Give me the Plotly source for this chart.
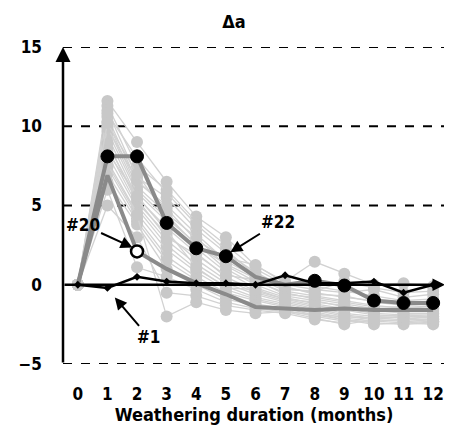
import plotly.graph_objects as go

months = list(range(13))
tick_labels = [str(m) for m in months]
y_ticks = [-5, 0, 5, 10, 15]
dashed_levels = [-5, 5, 10, 15]

gray_series = [
    [0, 11.6, 9.0, 6.5, 4.3, 3.0, 1.2, 0.2, 1.45, 0.7, 0.0, 0.1, -0.1],
    [0, 11.3, 7.5, 6.0, 4.0, 2.5, 1.0, 0.0, -0.3, -0.5, -0.3, -0.8, -0.6],
    [0, 11.0, 6.8, 5.5, 3.5, 2.0, 0.8, -0.2, -0.5, -0.8, -1.0, -1.2, -1.0],
    [0, 10.6, 6.5, 5.0, 3.2, 1.5, 0.5, -0.4, -0.7, -1.0, -1.3, -1.5, -1.3],
    [0, 10.3, 6.2, 4.5, 3.0, 1.2, 0.2, -0.5, -0.9, -1.2, -1.5, -1.6, -1.6],
    [0, 10.0, 6.0, 4.2, 2.6, 1.0, 0.0, -0.7, -1.0, -1.4, -1.6, -1.8, -1.8],
    [0, 9.7, 5.8, 4.0, 2.3, 0.8, -0.2, -0.8, -1.2, -1.5, -1.8, -1.9, -2.0],
    [0, 9.4, 5.5, 3.6, 2.0, 0.5, -0.4, -0.9, -1.3, -1.6, -1.9, -2.0, -2.1],
    [0, 9.0, 5.2, 3.2, 1.6, 0.3, -0.5, -1.0, -1.4, -1.8, -2.0, -2.1, -2.2],
    [0, 8.6, 5.0, 2.8, 1.3, 0.1, -0.6, -1.1, -1.5, -1.9, -2.1, -2.2, -2.3],
    [0, 8.2, 4.8, 2.5, 1.0, -0.1, -0.8, -1.2, -1.6, -2.0, -2.2, -2.3, -2.4],
    [0, 7.8, 4.5, 2.2, 0.8, -0.3, -0.9, -1.3, -1.7, -2.1, -2.3, -2.4, -2.5],
    [0, 7.4, 4.2, 1.8, 0.5, -0.5, -1.0, -1.4, -1.8, -2.2, -2.4, -2.5, -2.4],
    [0, 7.0, 4.0, 1.5, 0.3, -0.7, -1.2, -1.5, -1.9, -2.2, -2.5, -2.4, -2.3],
    [0, 6.5, 3.8, 1.0, 0.0, -0.9, -1.3, -1.6, -2.0, -2.3, -2.3, -2.2, -2.2],
    [0, 6.0, 1.1, 0.5, -0.3, -1.1, -1.5, -1.7, -2.1, -2.5, -2.2, -2.0, -2.0],
    [0, 5.0, 3.0, -0.5, -0.7, -1.3, -1.6, -1.8, -2.2, -2.4, -2.0, -1.9, -1.9],
    [0, 10.8, 8.0, 5.8, 3.8, 2.2, 0.6, -0.3, -0.4, 0.2, -0.2, -0.5, -0.4],
    [0, 9.9, 6.6, 4.8, 2.8, 1.7, 1.25, 0.1, -0.1, -0.4, -0.7, -1.0, -0.9],
    [0, 8.9, 5.4, 3.0, 1.9, 0.6, 0.3, -0.6, -0.8, -1.1, -1.4, -1.4, -1.5],
    [0, 7.6, 4.4, -2.0, -1.1, -1.6, -1.8, -1.7, -1.9, -2.0, -2.1, -2.0, -2.1],
    [0, 8.4, 5.6, 3.4, 1.1, -0.2, -0.3, -0.9, -1.1, -1.3, -1.7, -1.7, -1.7],
    [0, 10.2, 7.0, 4.4, 2.5, 1.3, 0.4, -0.1, -0.6, -0.7, -1.1, -1.3, -1.4],
]
sample_20 = [0, 6.9, 2.1, 1.0, 0.1, -0.6, -1.4, -1.5, -1.6, -1.5, -1.6, -1.6, -1.6]
sample_22 = [0, 8.1, 8.1, 3.9, 2.3, 1.8, 0.5, 0.0, 0.25, -0.05, -1.0, -1.15, -1.15]
sample_1 = [0, -0.2, 0.5, 0.2, 0.1, 0.1, 0.0, 0.6, 0.1, 0.1, 0.2, -0.5, 0.0]

LIGHT = "#c8c8c8"
DARK = "#8a8a8a"
FONT = "DejaVu Sans Condensed, DejaVu Sans"

# page body has an 8px default margin; figure sized to stay inside the visible window
W, H = 437, 419
X_MAX = 12.4

fig = go.Figure()

for s in gray_series:
    fig.add_trace(go.Scatter(
        x=months, y=s, mode="lines+markers",
        line=dict(color="#d2d2d2", width=1.3),
        marker=dict(color=LIGHT, size=12),
        showlegend=False, hoverinfo="skip"))

fig.add_trace(go.Scatter(
    x=months, y=sample_20, mode="lines",
    line=dict(color=DARK, width=4), showlegend=False))

sizes_22 = [0, 13, 13, 13, 13, 13, 0, 0, 13, 13, 13, 13, 13]
fig.add_trace(go.Scatter(
    x=months, y=sample_22, mode="lines",
    line=dict(color=DARK, width=4), showlegend=False))
fig.add_trace(go.Scatter(
    x=months, y=sample_22, mode="markers",
    marker=dict(color="#000000", size=sizes_22, opacity=1,
                line=dict(color="#000000", width=1)),
    showlegend=False))

fig.add_trace(go.Scatter(
    x=months, y=sample_1, mode="lines+markers",
    line=dict(color="black", width=2.5),
    marker=dict(color="black", size=6, symbol="diamond"), showlegend=False))

fig.add_trace(go.Scatter(
    x=[months[2]], y=[sample_20[2]], mode="markers",
    marker=dict(color="white", size=12, line=dict(color="black", width=2.5)),
    showlegend=False))

bold = dict(family=FONT, size=17, color="black", weight="bold")

annotations = [
    dict(x=-0.5, y=15, ax=-0.5, ay=-5, xref="x", yref="y", axref="x", ayref="y",
         text="", showarrow=True, arrowhead=2, arrowsize=1.2, arrowwidth=2.5, arrowcolor="black"),
    dict(x=X_MAX, y=0, ax=-0.5, ay=0, xref="x", yref="y", axref="x", ayref="y",
         text="", showarrow=True, arrowhead=2, arrowsize=1.0, arrowwidth=2.5, arrowcolor="black"),
    dict(x=1.85, y=2.35, ax=-50, ay=-23, xref="x", yref="y", text="<b>#20</b>",
         showarrow=True, arrowhead=2, arrowsize=1.2, arrowwidth=2, arrowcolor="black", font=bold),
    dict(x=5.15, y=2.05, ax=48, ay=-30, xref="x", yref="y", text="<b>#22</b>",
         showarrow=True, arrowhead=2, arrowsize=1.2, arrowwidth=2, arrowcolor="black", font=bold),
    dict(x=1.25, y=-0.8, ax=34, ay=40, xref="x", yref="y", text="<b>#1</b>",
         showarrow=True, arrowhead=2, arrowsize=1.2, arrowwidth=2, arrowcolor="black", font=bold),
]

shapes = [
    dict(type="line", xref="paper", yref="y", x0=0, x1=1, y0=v, y1=v,
         line=dict(color="black", width=2, dash="dash"), layer="below")
    for v in dashed_levels
]

fig.update_layout(
    width=W, height=H,
    margin=dict(l=55, r=0, t=39, b=63),
    paper_bgcolor="white", plot_bgcolor="white",
    title=dict(text="<b>Δa</b>", x=226/W, xanchor="center", xref="container",
               y=1 - 14/H, yanchor="middle", yref="container",
               font=dict(family=FONT, size=18, color="black")),
    font=dict(family=FONT, size=17, color="black"),
    annotations=annotations,
    shapes=shapes,
    xaxis=dict(range=[-0.5, X_MAX], tickmode="array", tickvals=months, ticktext=tick_labels,
               showgrid=False, zeroline=False, showline=False, ticks="",
               automargin=False, ticklabelstandoff=18,
               tickfont=dict(family=FONT, size=17, weight="bold"),
               title=dict(text="<b>Weathering duration (months)</b>", standoff=0,
                          font=dict(family=FONT, size=18))),
    yaxis=dict(range=[-5, 15], tickvals=y_ticks,
               showgrid=False, zeroline=False, showline=False, ticks="",
               automargin=False, ticklabelstandoff=20,
               tickfont=dict(family=FONT, size=17, weight="bold")),
)

fig.write_html("out.html")
